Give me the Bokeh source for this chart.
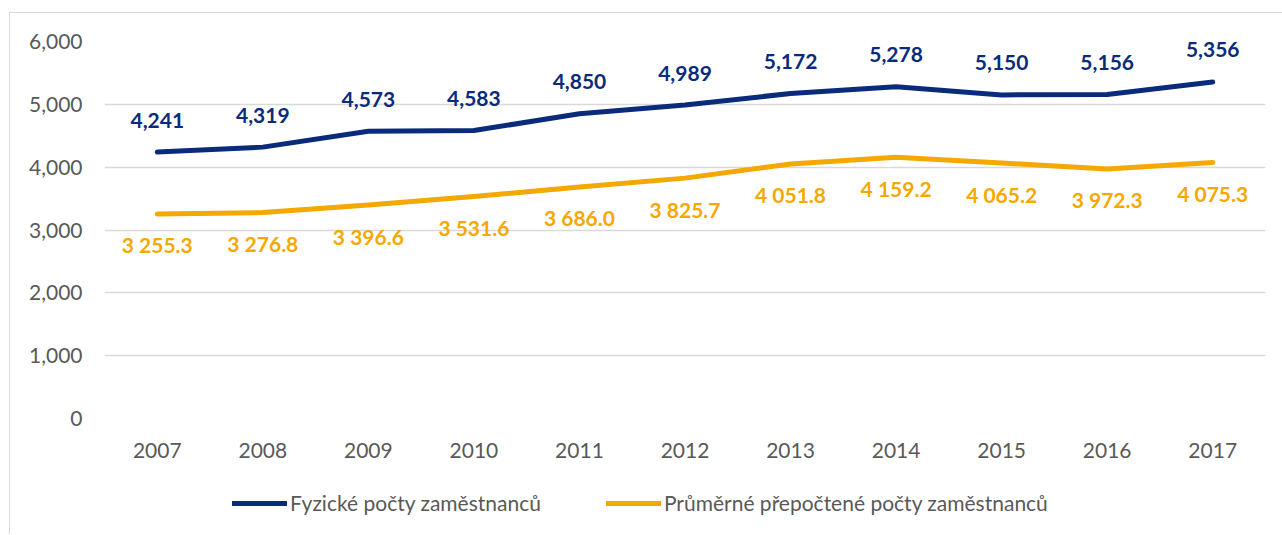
from bokeh.plotting import figure
from bokeh.layouts import column
from bokeh.models import (ColumnDataSource, LabelSet, Legend, LegendItem,
                          NumeralTickFormatter, Range1d, FactorRange)
from bokeh.core.properties import value
from bokeh.embed import file_html
from bokeh.resources import INLINE

years = ["2007", "2008", "2009", "2010", "2011", "2012", "2013", "2014", "2015", "2016", "2017"]
fyzicke = [4241, 4319, 4573, 4583, 4850, 4989, 5172, 5278, 5150, 5156, 5356]
prumerne = [3255.3, 3276.8, 3396.6, 3531.6, 3686.0, 3825.7, 4051.8, 4159.2, 4065.2, 3972.3, 4075.3]
series_names = ["Fyzické počty zaměstnanců", "Průměrné přepočtené počty zaměstnanců"]

NAVY = "#0A2B7B"
ORANGE = "#F5A800"
GRAY_TXT = "#595959"
FONT = "Lato"

src = ColumnDataSource(dict(
    x=years,
    f=fyzicke,
    p=prumerne,
    f_lbl=[f"{v:,}" for v in fyzicke],
    p_lbl=[f"{v:,.1f}".replace(",", " ") for v in prumerne],
))

p = figure(width=1272, height=455, x_range=FactorRange(*years), y_range=Range1d(0, 6000),
           output_backend="svg", toolbar_location=None,
           min_border_left=94, min_border_right=17, min_border_top=28, min_border_bottom=50)
p.outline_line_color = None
p.xgrid.grid_line_color = None
p.ygrid.grid_line_color = "#d9d9d9"
p.ygrid.grid_line_width = 1.3
p.yaxis.ticker = [0, 1000, 2000, 3000, 4000, 5000, 6000]
p.yaxis.formatter = NumeralTickFormatter(format="0,0")

for ax in (p.xaxis[0], p.yaxis[0]):
    ax.axis_line_color = None
    ax.major_tick_line_color = None
    ax.minor_tick_line_color = None
    ax.major_tick_out = 0
    ax.major_tick_in = 0
    ax.major_label_text_font = FONT
    ax.major_label_text_font_size = "21px"
    ax.major_label_text_color = GRAY_TXT
p.yaxis.major_label_standoff = 22
p.xaxis.major_label_standoff = 24

r1 = p.line("x", "f", source=src, line_color=NAVY, line_width=5, line_cap="round", line_join="round")
r2 = p.line("x", "p", source=src, line_color=ORANGE, line_width=5, line_cap="round", line_join="round")

p.add_layout(LabelSet(x="x", y="f", text="f_lbl", source=src, y_offset=32,
                      text_align="center", text_baseline="middle",
                      text_font=value(FONT), text_font_style="bold",
                      text_font_size="21px", text_color=NAVY))
p.add_layout(LabelSet(x="x", y="p", text="p_lbl", source=src, y_offset=-31,
                      text_align="center", text_baseline="middle",
                      text_font=value(FONT), text_font_style="bold",
                      text_font_size="21px", text_color=ORANGE))

# legend in a separate strip below the chart
lf = figure(width=1272, height=66, output_backend="svg", toolbar_location=None,
            x_range=Range1d(0, 1), y_range=Range1d(0, 1),
            min_border_left=0, min_border_right=0, min_border_top=0, min_border_bottom=0)
lf.axis.visible = False
lf.grid.visible = False
lf.outline_line_color = None
l1 = lf.line(x=[5, 6], y=[5, 6], line_color=NAVY, line_width=5, line_cap="round")
l2 = lf.line(x=[5, 6], y=[5, 6], line_color=ORANGE, line_width=5, line_cap="round")
legend = Legend(items=[LegendItem(label=series_names[0], renderers=[l1]),
                       LegendItem(label=series_names[1], renderers=[l2])],
                orientation="horizontal", location=(128, 19),
                glyph_width=55, glyph_height=20, label_standoff=3, spacing=65,
                label_text_font=FONT, label_text_font_size="21px",
                label_text_color=GRAY_TXT, border_line_color=None,
                background_fill_alpha=0, margin=0, padding=0)
lf.add_layout(legend)

layout = column(p, lf, spacing=0,
                styles={"border-left": "1px solid #d9d9d9", "border-top": "1px solid #d9d9d9",
                        "margin-left": "9px", "margin-top": "12px"})
open("out.html", "w").write(file_html(layout, INLINE))
